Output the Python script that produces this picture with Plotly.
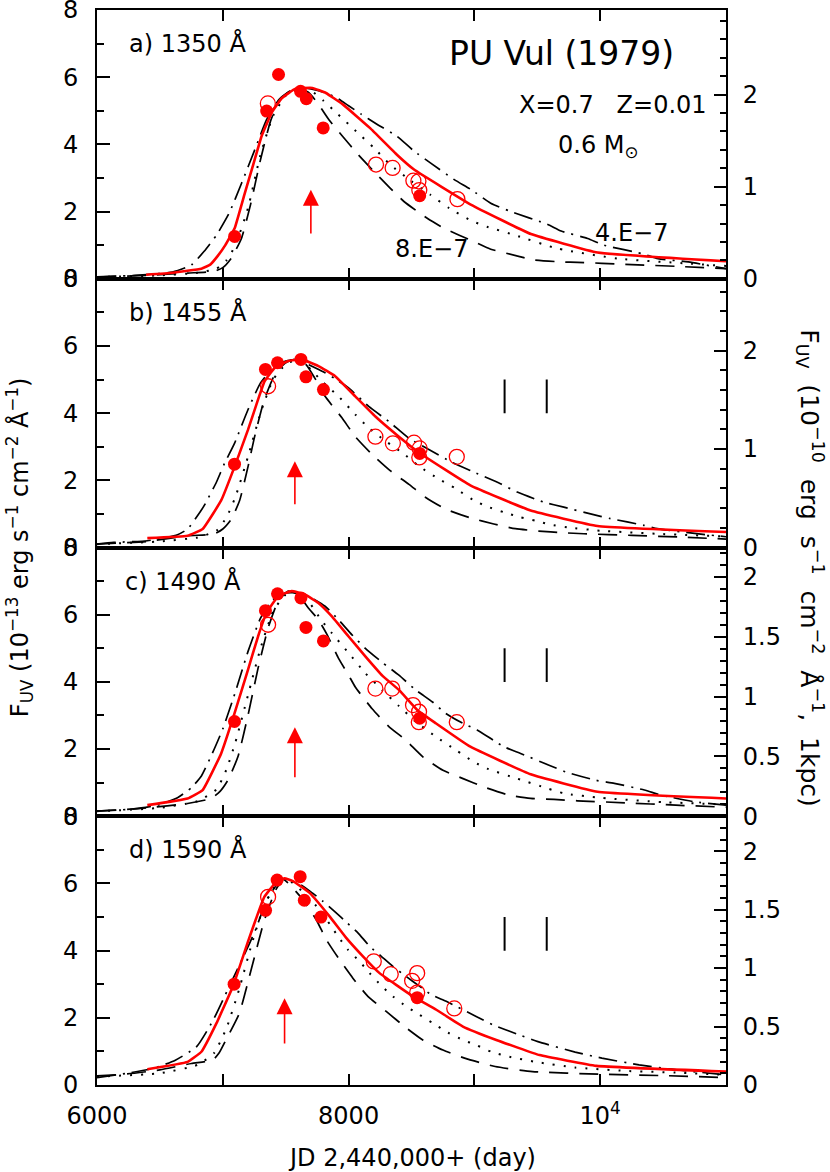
import plotly.graph_objects as go

# ---------------- data ----------------
# panel a) 1350 A
red_a_x = [6390, 6600, 6830, 6900, 6960, 7020, 7094, 7175, 7242, 7309, 7390, 7470, 7578, 7712, 7820, 7954, 8169, 8384, 8520, 8975, 9450, 9980, 11000]
red_a_y = [0.12, 0.18, 0.30, 0.42, 0.68, 1.0, 1.5, 2.55, 3.4, 4.25, 4.95, 5.38, 5.66, 5.68, 5.53, 5.19, 4.49, 3.69, 3.25, 2.2, 1.33, 0.78, 0.52]
ld_a_x = [6000, 6400, 6720, 6930, 7000, 7067, 7148, 7220, 7300, 7380, 7450, 7520, 7590, 7680, 7750, 7850, 7950, 8075, 8200, 8330, 8440, 8625, 8760, 9000, 9130, 9360, 9450, 9700, 9820, 10200, 10600, 11000]
ld_a_y = [0.05, 0.1, 0.17, 0.22, 0.33, 0.61, 1.2, 2.2, 3.55, 4.7, 5.3, 5.55, 5.68, 5.55, 5.25, 4.7, 4.25, 3.7, 3.2, 2.7, 2.3, 1.8, 1.5, 1.1, 0.88, 0.66, 0.57, 0.5, 0.49, 0.43, 0.37, 0.3]
dot_a_x = [6000, 6500, 6800, 6950, 7030, 7100, 7200, 7300, 7400, 7500, 7600, 7700, 7800, 7900, 8060, 8200, 8330, 8500, 8650, 8800, 8980, 9100, 9320, 9660, 10140, 10670, 11000]
dot_a_y = [0.05, 0.1, 0.18, 0.3, 0.55, 1.0, 2.1, 3.7, 4.85, 5.45, 5.68, 5.6, 5.3, 4.95, 4.39, 3.9, 3.4, 2.9, 2.5, 2.1, 1.72, 1.55, 1.3, 0.9, 0.6, 0.46, 0.38]
dd_a_x = [6000, 6300, 6600, 6750, 6850, 6950, 7050, 7150, 7250, 7350, 7450, 7550, 7620, 7700, 7800, 7900, 8000, 8100, 8225, 8385, 8520, 8650, 8840, 8975, 9130, 9290, 9580, 9690, 9900, 10030, 10330, 10460, 10700, 11000]
dd_a_y = [0.06, 0.1, 0.2, 0.41, 0.81, 1.3, 1.95, 2.85, 3.8, 4.75, 5.35, 5.62, 5.7, 5.65, 5.55, 5.4, 5.15, 4.9, 4.6, 4.24, 3.8, 3.45, 2.95, 2.65, 2.25, 2.0, 1.62, 1.42, 1.2, 1.0, 0.75, 0.6, 0.5, 0.3]
fill_a_x = [7094, 7349, 7443, 7618, 7664, 7798, 8565]
fill_a_y = [1.26, 4.99, 6.08, 5.58, 5.36, 4.49, 2.47]
open_a_x = [7358, 8218, 8350, 8515, 8555, 8562, 8865]
open_a_y = [5.22, 3.4, 3.3, 2.92, 2.9, 2.64, 2.37]

# panel b) 1455 A
red_b_x = [6400, 6720, 6840, 6987, 7093, 7200, 7280, 7333, 7413, 7520, 7627, 7760, 7893, 8053, 8213, 8400, 8570, 8968, 9447, 9979, 11000]
red_b_y = [0.28, 0.35, 0.55, 1.4, 2.4, 3.5, 4.4, 4.95, 5.35, 5.55, 5.6, 5.4, 5.1, 4.5, 3.9, 3.3, 2.8, 1.85, 1.1, 0.64, 0.46]
ld_b_x = [6000, 6400, 6720, 6930, 7000, 7067, 7133, 7200, 7253, 7330, 7420, 7500, 7580, 7660, 7730, 7813, 7947, 8053, 8187, 8333, 8480, 8613, 8773, 8960, 9154, 9326, 9512, 9700, 9870, 10255, 10640, 11000]
ld_b_y = [0.1, 0.18, 0.35, 0.4, 0.55, 0.84, 1.39, 2.4, 3.3, 4.4, 5.2, 5.5, 5.6, 5.45, 5.05, 4.5, 3.86, 3.3, 2.77, 2.28, 1.88, 1.49, 1.14, 0.89, 0.7, 0.56, 0.49, 0.44, 0.41, 0.36, 0.31, 0.25]
dot_b_x = [6000, 6500, 6800, 6950, 7030, 7100, 7200, 7300, 7400, 7500, 7600, 7700, 7787, 7920, 8053, 8160, 8293, 8427, 8560, 8720, 8853, 8987, 9100, 9233, 9366, 9485, 9605, 9738, 10000, 10500, 11000]
dot_b_y = [0.1, 0.18, 0.3, 0.5, 0.9, 1.5, 2.7, 4.0, 5.0, 5.45, 5.6, 5.3, 4.95, 4.5, 3.96, 3.56, 3.17, 2.82, 2.42, 2.03, 1.75, 1.42, 1.22, 1.05, 0.9, 0.8, 0.68, 0.6, 0.5, 0.4, 0.33]
dd_b_x = [6000, 6133, 6400, 6640, 6720, 6800, 6860, 6950, 7013, 7093, 7200, 7300, 7400, 7500, 7580, 7650, 7733, 7813, 7893, 8000, 8160, 8320, 8480, 8613, 8830, 8973, 9207, 9340, 9552, 9711, 9923, 10082, 10348, 10454, 10750, 11000]
dd_b_y = [0.1, 0.15, 0.2, 0.38, 0.55, 0.95, 1.3, 1.95, 2.5, 3.1, 4.1, 4.9, 5.35, 5.55, 5.6, 5.5, 5.35, 5.2, 5.02, 4.75, 4.2, 3.75, 3.25, 2.97, 2.52, 2.28, 1.9, 1.65, 1.35, 1.2, 1.0, 0.86, 0.66, 0.56, 0.42, 0.32]
fill_b_x = [7093, 7339, 7435, 7621, 7661, 7800, 8565]
fill_b_y = [2.48, 5.3, 5.5, 5.6, 5.08, 4.7, 2.8]
open_b_x = [7360, 8213, 8352, 8520, 8565, 8562, 8860]
open_b_y = [4.8, 3.3, 3.1, 3.12, 2.95, 2.68, 2.7]

# panel c) 1490 A
red_c_x = [6400, 6720, 6840, 6987, 7093, 7200, 7280, 7347, 7440, 7547, 7653, 7760, 7867, 8000, 8133, 8270, 8400, 8550, 8693, 8968, 9447, 9979, 11000]
red_c_y = [0.33, 0.53, 0.78, 1.87, 3.06, 4.36, 5.35, 6.05, 6.55, 6.7, 6.6, 6.35, 5.95, 5.35, 4.76, 4.18, 3.76, 3.15, 2.77, 2.07, 1.25, 0.73, 0.53]
ld_c_x = [6000, 6400, 6720, 6907, 6980, 7040, 7120, 7200, 7280, 7360, 7440, 7520, 7600, 7680, 7760, 7830, 7920, 8000, 8053, 8187, 8320, 8453, 8590, 8750, 8910, 9070, 9274, 9447, 9633, 9819, 10200, 10600, 11000]
ld_c_y = [0.15, 0.25, 0.38, 0.53, 0.75, 1.07, 1.77, 3.0, 4.4, 5.6, 6.4, 6.7, 6.6, 6.2, 5.85, 5.4, 4.7, 4.2, 3.85, 3.2, 2.67, 2.27, 1.77, 1.37, 1.12, 0.88, 0.63, 0.53, 0.5, 0.46, 0.4, 0.33, 0.27]
dot_c_x = [6000, 6500, 6800, 6950, 7030, 7100, 7200, 7300, 7400, 7500, 7600, 7700, 7780, 7867, 8000, 8133, 8267, 8400, 8533, 8693, 8853, 8995, 9101, 9340, 9580, 9713, 10000, 10500, 11000]
dot_c_y = [0.15, 0.25, 0.45, 0.8, 1.4, 2.2, 3.6, 5.0, 6.1, 6.6, 6.65, 6.3, 5.85, 5.45, 4.86, 4.26, 3.76, 3.28, 2.82, 2.37, 1.97, 1.62, 1.42, 1.12, 0.83, 0.68, 0.55, 0.42, 0.35]
dd_c_x = [6000, 6300, 6500, 6640, 6750, 6830, 6920, 7000, 7100, 7200, 7300, 7400, 7500, 7600, 7680, 7813, 7920, 8027, 8133, 8267, 8400, 8533, 8667, 8773, 8907, 9021, 9234, 9367, 9593, 9726, 9966, 10112, 10351, 10484, 10750, 11000]
dd_c_y = [0.15, 0.22, 0.35, 0.55, 0.85, 1.2, 1.9, 2.6, 3.7, 4.9, 5.9, 6.45, 6.65, 6.65, 6.55, 6.25, 5.85, 5.4, 5.0, 4.58, 4.2, 3.76, 3.4, 3.06, 2.77, 2.57, 2.07, 1.87, 1.52, 1.32, 1.07, 0.98, 0.78, 0.63, 0.43, 0.33]
fill_c_x = [7093, 7339, 7435, 7621, 7661, 7800, 8565]
fill_c_y = [2.82, 6.12, 6.62, 6.5, 5.62, 5.22, 2.92]
open_c_x = [7360, 8213, 8347, 8512, 8560, 8558, 8860]
open_c_y = [5.7, 3.8, 3.8, 3.31, 3.11, 2.8, 2.8]

# panel d) 1590 A
red_d_x = [6400, 6720, 6830, 6950, 7080, 7205, 7330, 7415, 7490, 7557, 7690, 7849, 7981, 8114, 8246, 8378, 8511, 8697, 8909, 9174, 9518, 9970, 11000]
red_d_y = [0.47, 0.69, 0.99, 1.84, 2.93, 4.32, 5.6, 6.0, 6.15, 6.07, 5.72, 5.02, 4.38, 3.83, 3.33, 2.98, 2.64, 2.24, 1.74, 1.34, 0.89, 0.57, 0.4]
ld_d_x = [6000, 6241, 6500, 6750, 6919, 6970, 7025, 7131, 7230, 7330, 7420, 7480, 7517, 7636, 7743, 7822, 7928, 8034, 8153, 8299, 8445, 8590, 8750, 8922, 9165, 9462, 10000, 10500, 11000]
ld_d_y = [0.27, 0.33, 0.45, 0.64, 0.74, 0.95, 1.34, 2.13, 3.5, 4.9, 5.8, 6.12, 6.02, 5.52, 4.92, 4.33, 3.73, 3.18, 2.64, 2.19, 1.74, 1.34, 1.04, 0.8, 0.55, 0.4, 0.32, 0.28, 0.22]
dot_d_x = [6000, 6500, 6800, 6930, 7030, 7130, 7230, 7330, 7430, 7520, 7650, 7769, 7915, 7994, 8087, 8167, 8259, 8352, 8458, 8564, 8670, 8789, 8909, 9014, 9134, 9279, 9500, 9800, 10200, 10600, 11000]
dot_d_y = [0.25, 0.35, 0.6, 0.95, 1.7, 2.85, 4.2, 5.35, 6.0, 6.1, 5.7, 5.22, 4.43, 4.03, 3.68, 3.33, 2.96, 2.64, 2.34, 2.09, 1.84, 1.56, 1.34, 1.19, 0.99, 0.84, 0.68, 0.52, 0.42, 0.37, 0.3]
dd_d_x = [6000, 6241, 6453, 6623, 6792, 6919, 7047, 7174, 7258, 7350, 7470, 7600, 7700, 7795, 7888, 7981, 8074, 8167, 8260, 8352, 8458, 8560, 8657, 8776, 9014, 9147, 9359, 9505, 9801, 10013, 10309, 10563, 11000]
dd_d_y = [0.22, 0.35, 0.5, 0.74, 1.14, 1.9, 2.9, 3.9, 4.6, 5.5, 6.13, 6.0, 5.75, 5.47, 5.17, 4.85, 4.53, 4.13, 3.83, 3.53, 3.23, 2.95, 2.69, 2.49, 2.04, 1.79, 1.49, 1.29, 0.98, 0.8, 0.6, 0.47, 0.3]
fill_d_x = [7090, 7340, 7432, 7615, 7648, 7780, 8545]
fill_d_y = [3.0, 5.2, 6.1, 6.2, 5.5, 5.0, 2.6]
open_d_x = [7360, 8200, 8335, 8505, 8545, 8545, 8840]
open_d_y = [5.6, 3.68, 3.3, 3.1, 3.33, 2.75, 2.28]

panel_labels = ["a) 1350 Å", "b) 1455 Å", "c) 1490 Å", "d) 1590 Å"]
# red arrows: x position, tail, tip (left-axis units)
arrow_x = [7700, 7573, 7573, 7491]
arrow_y0 = [1.3, 1.24, 1.12, 1.19]
arrow_y1 = [2.65, 2.57, 2.65, 2.58]
# pair of vertical marks (panels b-d)
mark_x = [9240, 9575]
mark_y = [4.0, 5.0]
# right axis: left units per right unit, and its ticks
right_factor = [2.74, 2.93, 3.56, 3.48]
right_ticks = [[0, 1, 2], [0, 1, 2], [0, 0.5, 1, 1.5, 2], [0, 0.5, 1, 1.5, 2]]
right_text = [["0", "1", "2"], ["0", "1", "2"], ["0", "0.5", "1", "1.5", "2"], ["0", "0.5", "1", "1.5", "2"]]
right_minor = [0.2, 0.2, 0.1, 0.1]
x_ticks = [6000, 8000, 10000]
x_text = ["6000", "8000", "10<sup>4</sup>"]
x_unlabelled = [7000, 9000, 11000]

panels = [
    (red_a_x, red_a_y, ld_a_x, ld_a_y, dot_a_x, dot_a_y, dd_a_x, dd_a_y, fill_a_x, fill_a_y, open_a_x, open_a_y),
    (red_b_x, red_b_y, ld_b_x, ld_b_y, dot_b_x, dot_b_y, dd_b_x, dd_b_y, fill_b_x, fill_b_y, open_b_x, open_b_y),
    (red_c_x, red_c_y, ld_c_x, ld_c_y, dot_c_x, dot_c_y, dd_c_x, dd_c_y, fill_c_x, fill_c_y, open_c_x, open_c_y),
    (red_d_x, red_d_y, ld_d_x, ld_d_y, dot_d_x, dot_d_y, dd_d_x, dd_d_y, fill_d_x, fill_d_y, open_d_x, open_d_y),
]

FONT = "DejaVu Sans"
FS = 24
BW = 1.7  # black model line width
tick_font = dict(family=FONT, size=FS, color="black")

fig = go.Figure()
layout = {}
annotations = []

for i, p in enumerate(panels):
    rx, ry, lx, ly, tx, ty, dx, dy, fx, fy, ox, oy = p
    xa = "x" if i == 0 else f"x{i + 1}"
    ya = "y" if i == 0 else f"y{2 * i + 1}"
    yr = f"y{2 * i + 2}"
    dom = [0.75 - 0.25 * i, 1.0 - 0.25 * i]

    common = dict(xaxis=xa, yaxis=ya, showlegend=False, hoverinfo="skip")
    fig.add_trace(go.Scatter(x=lx, y=ly, mode="lines", line=dict(color="black", width=BW, dash="19px,11px", shape="spline", smoothing=0.5), **common))
    fig.add_trace(go.Scatter(x=tx, y=ty, mode="lines", line=dict(color="black", width=BW + 0.3, dash="2px,9px", shape="spline", smoothing=0.5), **common))
    fig.add_trace(go.Scatter(x=dx, y=dy, mode="lines", line=dict(color="black", width=BW, dash="19px,7px,2px,7px", shape="spline", smoothing=0.5), **common))
    fig.add_trace(go.Scatter(x=rx, y=ry, mode="lines", line=dict(color="#ff0000", width=2.6, shape="spline", smoothing=0.3), **common))
    fig.add_trace(go.Scatter(x=ox, y=oy, mode="markers", marker=dict(symbol="circle-open", size=15, color="#ff0000", line=dict(width=1.3)), **common))
    fig.add_trace(go.Scatter(x=fx, y=fy, mode="markers", marker=dict(symbol="circle", size=13, color="#ff0000"), **common))
    if i > 0:
        fig.add_trace(go.Scatter(x=[mark_x[0], mark_x[0], None, mark_x[1], mark_x[1]],
                                 y=[mark_y[0], mark_y[1], None, mark_y[0], mark_y[1]],
                                 mode="lines", line=dict(color="black", width=2), **common))
    # keep the right-hand axis alive
    fig.add_trace(go.Scatter(x=[None], y=[None], xaxis=xa, yaxis=yr, showlegend=False, hoverinfo="skip"))

    xkey = "xaxis" if i == 0 else f"xaxis{i + 1}"
    ykey = "yaxis" if i == 0 else f"yaxis{2 * i + 1}"
    rkey = f"yaxis{2 * i + 2}"
    layout[xkey] = dict(
        domain=[0, 1], range=[6000, 11000], anchor=ya, automargin=False,
        tickvals=x_ticks, ticktext=x_text, showticklabels=(i == 3),
        ticks="inside", ticklen=11, tickwidth=1.8, tickcolor="black",
        minor=dict(tickvals=x_unlabelled, ticks="inside", ticklen=11, tickwidth=1.8, tickcolor="black"),
        showline=True, linewidth=2, linecolor="black", mirror="ticks",
        showgrid=False, zeroline=False, ticklabelstandoff=8, tickfont=tick_font,
    )
    if i > 0:
        layout[xkey]["matches"] = "x"
    layout[ykey] = dict(
        domain=dom, range=[0, 8], anchor=xa, automargin=False, ticklabeloverflow="allow",
        tickvals=[0, 2, 4, 6, 8], ticks="inside", ticklen=13, tickwidth=1.8, tickcolor="black",
        minor=dict(tickvals=[1, 3, 5, 7], ticks="inside", ticklen=7, tickwidth=1.5, tickcolor="black"),
        showline=True, linewidth=2, linecolor="black",
        showgrid=False, zeroline=False, ticklabelstandoff=12, tickfont=tick_font,
    )
    layout[rkey] = dict(
        overlaying=ya, side="right", anchor=xa, range=[0, 8 / right_factor[i]], automargin=False,
        tickvals=right_ticks[i], ticktext=right_text[i],
        ticks="inside", ticklen=12, tickwidth=1.8, tickcolor="black",
        minor=dict(dtick=right_minor[i], ticks="inside", ticklen=6, tickwidth=1.5, tickcolor="black"),
        showline=True, linewidth=2, linecolor="black",
        showgrid=False, zeroline=False, ticklabelstandoff=10, tickfont=tick_font,
    )

    annotations.append(dict(x=6205 if i == 2 else 6240, y=7.0, xref=xa, yref=ya, text=panel_labels[i],
                            showarrow=False, xanchor="left", yanchor="middle", font=tick_font))
    annotations.append(dict(x=arrow_x[i], y=arrow_y1[i], ax=arrow_x[i], ay=arrow_y0[i],
                            xref=xa, yref=ya, axref=xa, ayref=ya, text="",
                            showarrow=True, arrowhead=2, arrowsize=2.0, arrowwidth=1.6, arrowcolor="#ff0000"))

# panel a texts and axis titles
sp = "\u00a0"
annotations += [
    dict(x=9692, y=6.7, xref="x", yref="y", text="PU Vul (1979)", showarrow=False,
         xanchor="center", yanchor="middle", font=dict(family=FONT, size=33, color="black")),
    dict(x=10100, y=5.16, xref="x", yref="y", text=f"X=0.7{sp}{sp} Z=0.01", showarrow=False,
         xanchor="center", yanchor="middle", font=tick_font),
    dict(x=9650, y=3.95, xref="x", yref="y", text="0.6 M<sub>⊙</sub>", showarrow=False,
         xanchor="left", yanchor="middle", font=tick_font),
    dict(x=8660, y=0.9, xref="x", yref="y", text="8.E−7", showarrow=False,
         xanchor="center", yanchor="middle", font=tick_font),
    dict(x=10250, y=1.37, xref="x", yref="y", text="4.E−7", showarrow=False,
         xanchor="center", yanchor="middle", font=tick_font),
    dict(x=-0.123, y=0.5, xref="paper", yref="paper", textangle=-90, showarrow=False,
         text="F<sub>UV</sub> (10<sup>−13</sup> erg s<sup>−1</sup> cm<sup>−2</sup> Å<sup>−1</sup>)",
         xanchor="center", yanchor="middle", font=tick_font),
    dict(x=1.133, y=0.481, xref="paper", yref="paper", textangle=90, showarrow=False,
         text=(f"F<sub>UV</sub>{sp} (10<sup>−10</sup>{sp} erg{sp} s<sup>−1</sup>{sp} "
               f"cm<sup>−2</sup>{sp} Å<sup>−1</sup>,{sp} 1kpc)"),
         xanchor="center", yanchor="middle", font=dict(family=FONT, size=25, color="black")),
    dict(x=0.5, y=-0.068, xref="paper", yref="paper", showarrow=False,
         text="JD 2,440,000+ (day)", xanchor="center", yanchor="middle", font=tick_font),
]

fig.update_layout(
    width=830, height=1172,
    margin=dict(l=97, r=104, t=10, b=87, autoexpand=False),
    paper_bgcolor="white", plot_bgcolor="white",
    showlegend=False, annotations=annotations,
    font=dict(family=FONT, size=FS, color="black"),
    **layout,
)

# drop the default page margin so the 830x1172 figure fills the window
fig.write_html("out.html", config={"displayModeBar": False},
               post_script="document.body.style.margin='0px';")
